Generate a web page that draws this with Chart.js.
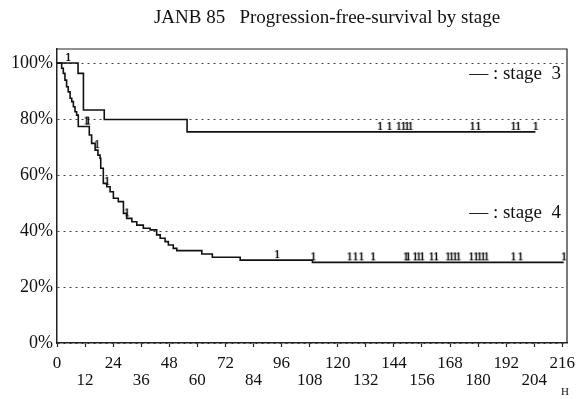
<!DOCTYPE html>
<html><head><meta charset="utf-8">
<script src="https://cdn.jsdelivr.net/npm/chart.js@4/dist/chart.umd.min.js"></script>
<style>html,body{margin:0;padding:0;background:#fff}</style>
</head><body>
<canvas id="c" width="578" height="399"></canvas>
<script>
const titleText = 'JANB 85   Progression-free-survival by stage';
const legendLabels = ['\u2014 : stage  3', '\u2014 : stage  4'];
const xUnitLabel = 'H';
const xTicks = [0,12,24,36,48,60,72,84,96,108,120,132,144,156,168,180,192,204,216];
const yTicks = [0,20,40,60,80,100];

// stage 3: times of drops (months) and survival (%) after each drop
const stage3Months = [0, 9, 11.3, 20.2, 55.6, 204.5];
const stage3Surv   = [100, 96.3, 83.2, 79.8, 75.4, 75.4];
const stage3Censored = [4.7, 138, 142, 146, 148, 149.5, 151, 177.5, 180, 195, 197, 204.5];

// stage 4
const stage4Months = [0, 2.0, 2.7, 3.4, 4.1, 4.8, 5.6, 6.3, 7.0, 7.7, 8.4, 9.1, 13.8, 14.8, 16.3, 17.5, 18.4, 18.7, 19.8, 21.3, 22.7, 24.1, 26.2, 28.4, 29.8, 32.0, 34.1, 36.9, 39.8, 42.6, 44.1, 46.2, 47.6, 49.7, 51.2, 61.9, 66.4, 78.3, 109.2, 216.6];
const stage4Surv   = [100, 98.1, 96.3, 93.9, 91.5, 89.7, 87.4, 86.2, 84.4, 82.6, 81.4, 77.3, 74.3, 71.3, 68.9, 67.1, 66.0, 62.4, 57.0, 55.8, 54.0, 51.7, 50.5, 46.3, 44.5, 43.3, 42.1, 41.0, 40.4, 38.6, 37.4, 36.2, 35.0, 33.8, 33.0, 31.8, 30.6, 29.6, 28.8, 28.8];
const stage4Censored = [12.5, 13.2, 17, 21.3, 29.8, 94, 109.5, 125, 127.5, 130, 135, 149, 150, 153, 154.5, 156, 160, 162, 167, 168.5, 170, 171.5, 177, 179, 180.5, 182, 183.5, 195, 198, 216.6];

function survAt(months, surv, t){
  let s = surv[0];
  for (let i = 0; i < months.length; i++){ if (months[i] <= t) s = surv[i]; }
  return s;
}
function makeGlyph(){
  const c = document.createElement('canvas');
  c.width = 8; c.height = 26;
  const g = c.getContext('2d');
  g.font = '12px "Liberation Serif"';
  g.fillStyle = '#000';
  g.textAlign = 'center';
  g.textBaseline = 'alphabetic';
  g.fillText('1', 4, 11);
  g.fillText('1', 4.5, 11);
  return c;
}
const glyph = makeGlyph();
const serif = '"Liberation Serif", "DejaVu Serif", serif';

const textPlugin = {
  id: 'texts',
  afterDraw(chart){
    const ctx = chart.ctx, a = chart.chartArea;
    ctx.save();
    ctx.strokeStyle = '#222'; ctx.lineWidth = 1.2;
    ctx.beginPath();
    ctx.moveTo(a.left, a.top); ctx.lineTo(a.right, a.top); ctx.lineTo(a.right, a.bottom);
    ctx.stroke();
    ctx.fillStyle = '#111';
    ctx.textBaseline = 'middle';
    ctx.font = '19px ' + serif;
    ctx.textAlign = 'center';
    ctx.fillText(titleText, 327, 18);
    ctx.textAlign = 'right';
    ctx.font = '19px ' + serif;
    ctx.fillText(legendLabels[0], 561, 74);
    ctx.fillText(legendLabels[1], 561, 213);
    ctx.font = '11px ' + serif;
    ctx.fillText(xUnitLabel, 569, 392);
    ctx.restore();
  }
};

const lineStyle = {type:'line', stepped:true, borderColor:'#111', borderWidth:1.6, pointRadius:0, fill:false, tension:0};
const censStyle = {type:'scatter', pointStyle:glyph, pointRadius:3, showLine:false};

new Chart(document.getElementById('c'), {
  type: 'scatter',
  data: {datasets: [
    Object.assign({label:'stage 3', data: stage3Months.map((m,i)=>({x:m, y:stage3Surv[i]}))}, lineStyle),
    Object.assign({label:'stage 4', data: stage4Months.map((m,i)=>({x:m, y:stage4Surv[i]}))}, lineStyle),
    Object.assign({label:'stage 3 censored', data: stage3Censored.map(t=>({x:t, y:survAt(stage3Months, stage3Surv, t)}))}, censStyle),
    Object.assign({label:'stage 4 censored', data: stage4Censored.map(t=>({x:t, y:survAt(stage4Months, stage4Surv, t)}))}, censStyle)
  ]},
  options: {
    responsive:false, animation:false, devicePixelRatio:1,
    layout:{padding:{top:49, right:11, left:0, bottom:0}},
    plugins:{legend:{display:false}, tooltip:{enabled:false}, title:{display:false}},
    scales:{
      x:{type:'linear', min:0, max:218,
        afterBuildTicks: s => { s.ticks = xTicks.map(v=>({value:v})); },
        afterFit: s => { s.height = 56; s.paddingLeft = 0; s.paddingRight = 0; },
        ticks:{autoSkip:false, maxRotation:0, padding:8, color:'#111',
          font:{family:serif, size:17, lineHeight:1.0},
          callback: v => ((v/12)%2===0 ? [String(v), ''] : ['', String(v)])},
        grid:{drawOnChartArea:false, drawTicks:true, tickLength:4, color:'#222', tickWidth:1.2},
        border:{display:true, color:'#222', width:1.5}
      },
      y:{type:'linear', min:0, max:105,
        afterBuildTicks: s => { s.ticks = yTicks.map(v=>({value:v})); },
        afterFit: s => { s.width = 57; s.paddingTop = 0; s.paddingBottom = 0; },
        ticks:{padding:4, color:'#111', font:{family:serif, size:18}, callback: v => v + '%'},
        grid:{drawTicks:false, color:'#444', lineWidth:1},
        border:{display:true, color:'#222', width:1.5, dash:[2,4]}
      }
    }
  },
  plugins:[textPlugin]
});
</script>
</body></html>
